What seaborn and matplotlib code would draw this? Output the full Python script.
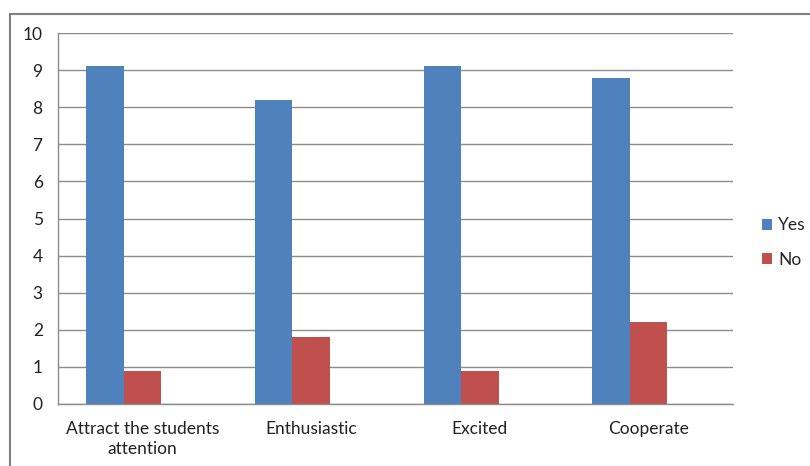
import matplotlib
matplotlib.use("Agg")
import matplotlib.pyplot as plt
import seaborn as sns
import pandas as pd
import numpy as np
from matplotlib.lines import Line2D
from matplotlib.patches import Patch

categories = ["Attract the students\nattention", "Enthusiastic", "Excited", "Cooperate"]
yes_values = [9.1, 8.2, 9.1, 8.8]
no_values = [0.9, 1.8, 0.9, 2.2]
series_names = ["Yes", "No"]
y_ticks = [0, 1, 2, 3, 4, 5, 6, 7, 8, 9, 10]

df = pd.DataFrame({
    "category": categories * 2,
    "value": yes_values + no_values,
    "series": [series_names[0]] * 4 + [series_names[1]] * 4,
})

sns.set_theme(style="white")
plt.rcParams["font.family"] = ["Lato", "DejaVu Sans"]

colors = {"Yes": "#4F81BD", "No": "#C0504D", " ": "#FFFFFF"}
fs = 12.5

fig = plt.figure(figsize=(8.1, 4.66), dpi=100)
ax = fig.add_axes([58/810, 1 - 404/466, (733-58)/810, (404-33)/466])

# third (empty) slot in hue_order mirrors the reference's left-shifted bar pair
sns.barplot(data=df, x="category", y="value", hue="series", order=categories,
            hue_order=series_names + [" "], palette=colors, width=0.666, saturation=1,
            edgecolor="none", linewidth=0, ax=ax, legend=False)

ax.set_ylim(0, 10)
ax.set_xlim(-0.5, 3.5)
ax.set_yticks(y_ticks)
ax.set_yticklabels([str(t) for t in y_ticks], fontsize=fs, color="#222222")
ax.yaxis.grid(True, color="#8c8c8c", linewidth=1)
ax.set_axisbelow(True)
ax.set_xlabel("")
ax.set_ylabel("")
ax.set_xticks(range(len(categories)))
ax.set_xticklabels(categories, fontsize=fs, color="#222222", linespacing=1.3)
ax.tick_params(axis="x", which="major", length=0, pad=12)
ax.set_xticks(np.arange(-0.5, 4.0, 1.0), minor=True)
ax.tick_params(axis="x", which="minor", length=5, color="#8c8c8c", width=1, direction="out")
ax.tick_params(axis="y", length=5, color="#8c8c8c", width=1, pad=6)

for s in ["top", "right"]:
    ax.spines[s].set_visible(False)
for s in ["left", "bottom"]:
    ax.spines[s].set_color("#8c8c8c")
    ax.spines[s].set_linewidth(1)

handles = [Patch(facecolor=colors[n], edgecolor="none", label=n) for n in series_names]
leg = fig.legend(handles=handles, loc="center left", bbox_to_anchor=(0.932, 1 - 242.5/466),
                 frameon=False, fontsize=fs, handlelength=0.6, handleheight=0.6,
                 handletextpad=0.35, labelspacing=1.05, borderaxespad=0)

# chart border
fig.add_artist(Line2D([10/810, 10/810], [0, 1 - 14/466], transform=fig.transFigure,
                      color="#808080", linewidth=1.5))
fig.add_artist(Line2D([10/810, 1], [1 - 14/466, 1 - 14/466], transform=fig.transFigure,
                      color="#808080", linewidth=1.5))

fig.savefig("out.png", dpi=100)
